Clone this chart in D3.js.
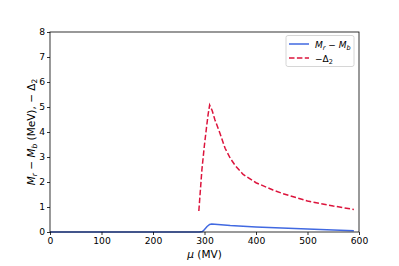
<!DOCTYPE html>
<html><head><meta charset="utf-8">
<script src="https://cdn.jsdelivr.net/npm/d3@7"></script>
<style>body{margin:0;background:#fff}svg{display:block}text{font-family:"DejaVu Sans",sans-serif}</style>
</head><body>
<svg id="c" width="399" height="266"></svg>
<script>
// data
const muBlue   = [0, 200, 290, 296, 300, 305, 310, 314, 320, 350, 400, 450, 500, 550, 590];
const valBlue  = [0, 0, 0, 0.02, 0.1, 0.22, 0.3, 0.32, 0.31, 0.26, 0.2, 0.16, 0.12, 0.08, 0.05];
const muRed    = [289, 295, 300, 304, 307, 310, 315, 320, 330, 340, 350, 360, 375, 400, 433, 450, 500, 550, 590];
const valRed   = [0.84, 2.5, 3.5, 4.2, 4.7, 5.08, 4.85, 4.5, 3.95, 3.35, 2.95, 2.65, 2.3, 1.97, 1.68, 1.55, 1.24, 1.04, 0.9];
const xTicks = [0, 100, 200, 300, 400, 500, 600];
const yTicks = [0, 1, 2, 3, 4, 5, 6, 7, 8];

const svg = d3.select("#c");
const L = 50, R = 359, T = 32, B = 232;
const x = d3.scaleLinear().domain([0, 600]).range([L, R]);
const y = d3.scaleLinear().domain([0, 8]).range([B, T]);

const line = d3.line().x(d => x(d[0])).y(d => y(d[1]));

svg.append("path").datum(muBlue.map((m, i) => [m, valBlue[i]]))
  .attr("d", line).attr("fill", "none").attr("stroke", "#4169e1").attr("stroke-width", 1.5);
svg.append("path").datum(muRed.map((m, i) => [m, valRed[i]]))
  .attr("d", line).attr("fill", "none").attr("stroke", "#dc143c").attr("stroke-width", 1.5)
  .attr("stroke-dasharray", "5.5,2.4");

const xa = svg.append("g").attr("transform", `translate(0,${B})`)
  .call(d3.axisBottom(x).tickValues(xTicks).tickSize(3).tickPadding(2).tickFormat(d3.format("d")));
const ya = svg.append("g").attr("transform", `translate(${L},0)`)
  .call(d3.axisLeft(y).tickValues(yTicks).tickSize(3).tickPadding(2).tickFormat(d3.format("d")));
[xa, ya].forEach(a => {
  a.select(".domain").remove();
  a.selectAll("text").attr("font-size", 9.2).attr("fill", "#000").attr("font-family", "DejaVu Sans");
  a.selectAll("line").attr("stroke", "#000").attr("stroke-width", 0.8);
});
svg.append("rect").attr("x", L).attr("y", T).attr("width", R - L).attr("height", B - T)
  .attr("fill", "none").attr("stroke", "#000").attr("stroke-width", 0.8);

// x label
svg.append("text").attr("x", (L + R) / 2).attr("y", 258).attr("text-anchor", "middle").attr("font-size", 10.5)
  .html('<tspan font-style="italic">μ</tspan> (MV)');

// y label
svg.append("text").attr("transform", `translate(35,${(T + B) / 2}) rotate(-90)`).attr("text-anchor", "middle")
  .attr("font-size", 10.5)
  .html('<tspan font-style="italic">M</tspan><tspan font-style="italic" font-size="7.5" dy="2">r</tspan><tspan dy="-2"> − </tspan><tspan font-style="italic">M</tspan><tspan font-style="italic" font-size="7.5" dy="2">b</tspan><tspan dy="-2"> (MeV), − Δ</tspan><tspan font-size="7.5" dy="2">2</tspan>');

// legend
const lg = svg.append("g");
lg.append("rect").attr("x", 286).attr("y", 35.5).attr("width", 68).attr("height", 31).attr("rx", 2)
  .attr("fill", "#fff").attr("stroke", "#ccc").attr("stroke-width", 0.8);
lg.append("line").attr("x1", 289).attr("x2", 309).attr("y1", 44).attr("y2", 44)
  .attr("stroke", "#4169e1").attr("stroke-width", 1.5);
lg.append("line").attr("x1", 289).attr("x2", 309).attr("y1", 58).attr("y2", 58)
  .attr("stroke", "#dc143c").attr("stroke-width", 1.5).attr("stroke-dasharray", "5.5,2.4");
lg.append("text").attr("x", 315).attr("y", 47.5).attr("font-size", 9)
  .html('<tspan font-style="italic">M</tspan><tspan font-style="italic" font-size="6.5" dy="2">r</tspan><tspan dy="-2"> − </tspan><tspan font-style="italic">M</tspan><tspan font-style="italic" font-size="6.5" dy="2">b</tspan>');
lg.append("text").attr("x", 315).attr("y", 61.5).attr("font-size", 9)
  .html('−Δ<tspan font-size="6.5" dy="2">2</tspan>');
</script>
</body></html>
